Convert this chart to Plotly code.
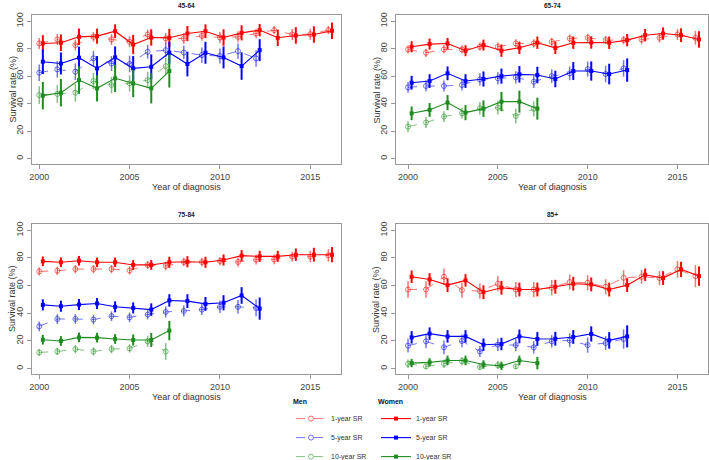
import plotly.graph_objects as go

# years of diagnosis for each survival horizon
years_1y = [2000, 2001, 2002, 2003, 2004, 2005, 2006, 2007, 2008, 2009, 2010, 2011, 2012, 2013, 2014, 2015, 2016]
years_5y = [2000, 2001, 2002, 2003, 2004, 2005, 2006, 2007, 2008, 2009, 2010, 2011, 2012]
years_10y = [2000, 2001, 2002, 2003, 2004, 2005, 2006, 2007]

age_groups = ["45-64", "65-74", "75-84", "85+"]

# ---- 45-64 ----
men_1y_4564 = [83.8, 86.7, 82.6, 88.6, 86.7, 85.0, 90.3, 87.4, 87.4, 89.3, 88.1, 88.6, 91.0, 93.5, 90.3, 90.5, 93.5]
men_1y_4564_err = [4, 4, 4, 3.5, 4, 4, 3.5, 4, 4, 3.5, 4, 4, 3.5, 3, 4, 4, 3]
wom_1y_4564 = [83.8, 84.3, 88.6, 89.1, 92.7, 83.0, 88.1, 87.9, 91.0, 92.7, 88.1, 91.5, 93.5, 87.9, 89.6, 90.3, 93.0]
wom_1y_4564_err = [6, 6, 6, 5.5, 5, 7, 6, 6.5, 5.5, 5, 6, 5.5, 4.5, 6, 6, 6, 6]
men_5y_4564 = [62.5, 64.9, 63.2, 72.9, 69.2, 68.8, 77.7, 78.9, 77.2, 75.3, 74.6, 78.2, 72.9]
men_5y_4564_err = [6, 6, 6, 5.5, 5.5, 6, 5, 5, 5, 5.5, 5.5, 5.5, 6]
wom_5y_4564 = [70.5, 69.2, 73.4, 65.6, 73.6, 65.6, 66.8, 77.0, 68.8, 77.0, 73.6, 67.3, 78.9]
wom_5y_4564_err = [9, 8, 8, 9, 8, 9, 9, 8, 9, 8, 8, 10, 8]
men_10y_4564 = [46.2, 47.0, 47.9, 56.4, 53.5, 54.7, 57.1, 67.3]
men_10y_4564_err = [6.5, 6.5, 6.5, 6, 6, 6, 6, 6]
wom_10y_4564 = [45.8, 47.9, 57.1, 51.1, 58.4, 54.7, 51.1, 63.7]
wom_10y_4564_err = [10, 10, 10, 9.5, 10, 10, 11, 12]

# ---- 65-74 ----
men_1y_6574 = [79.4, 77.0, 79.4, 79.4, 81.4, 81.4, 83.8, 83.8, 85.0, 87.4, 87.9, 86.2, 86.2, 86.7, 87.9, 90.3, 87.9]
men_1y_6574_err = [3, 3, 3, 3, 3, 3, 3, 3, 3, 3, 3, 3, 3, 3.5, 3.5, 4, 5]
wom_1y_6574 = [81.4, 83.3, 83.8, 78.5, 82.6, 78.5, 80.6, 84.3, 80.6, 84.3, 84.5, 84.3, 86.2, 89.8, 91.0, 89.8, 86.7]
wom_1y_6574_err = [4, 4, 4, 4, 4, 4.5, 4.5, 4.5, 4.5, 4.5, 4.5, 4.5, 4.5, 4.5, 4.5, 5, 6]
men_5y_6574 = [51.8, 52.8, 52.8, 53.5, 57.6, 58.4, 59.1, 55.9, 60.0, 62.0, 65.1, 61.5, 65.6]
men_5y_6574_err = [4, 4, 4, 4, 4.5, 4.5, 4.5, 4.5, 5, 5, 5.5, 6, 6]
wom_5y_6574 = [55.2, 56.4, 62.0, 56.4, 57.9, 60.0, 61.3, 60.8, 57.9, 63.7, 63.7, 61.5, 64.4]
wom_5y_6574_err = [5, 5, 5, 5, 5.5, 5.5, 6, 6, 6, 6.5, 7, 7.5, 8.5]
men_10y_6574 = [23.2, 26.2, 30.5, 32.9, 36.6, 37.0, 31.0, 36.1]
men_10y_6574_err = [4, 4, 4, 4, 4.5, 5, 5.5, 5.5]
wom_10y_6574 = [32.9, 35.4, 40.7, 33.4, 36.3, 41.4, 41.4, 36.3]
wom_10y_6574_err = [5, 5, 5.5, 5.5, 6, 7, 8, 8]

# ---- 75-84 ----
men_1y_7584 = [70.2, 70.7, 71.9, 71.9, 71.9, 70.9, 74.8, 74.1, 77.0, 77.0, 77.7, 77.0, 78.7, 78.9, 80.9, 80.9, 81.8]
men_1y_7584_err = [3, 3, 3, 3, 3, 3, 3, 3, 3, 3, 3, 3.5, 3.5, 3.5, 3.5, 4, 4.5]
wom_1y_7584 = [77.5, 76.8, 77.9, 76.8, 76.8, 74.9, 74.9, 76.8, 77.2, 76.8, 78.5, 81.6, 81.1, 81.1, 82.3, 82.3, 82.3]
wom_1y_7584_err = [3.5, 3.5, 3.5, 3.5, 3.5, 3.5, 3.5, 4, 4, 4, 4, 4, 4, 4, 4.5, 5, 5.5]
men_5y_7584 = [30.5, 35.8, 35.8, 35.4, 37.8, 37.0, 39.0, 40.9, 41.6, 42.6, 44.6, 44.6, 43.8]
men_5y_7584_err = [3.5, 3.5, 3.5, 3.5, 3.5, 3.5, 3.5, 4, 4, 4, 4.5, 5, 6]
wom_5y_7584 = [46.0, 45.0, 46.2, 47.0, 44.6, 43.8, 42.6, 49.2, 48.7, 46.7, 47.5, 52.8, 43.3]
wom_5y_7584_err = [4, 4, 4, 4, 4, 4, 4.5, 4.5, 5, 5, 5.5, 6, 8]
men_10y_7584 = [11.6, 12.3, 14.0, 12.3, 14.0, 14.5, 19.6, 12.3]
men_10y_7584_err = [2.5, 2.5, 3, 3, 3, 3, 4, 6]
wom_10y_7584 = [20.8, 19.9, 22.5, 22.3, 21.3, 20.6, 20.6, 27.4]
wom_10y_7584_err = [3.5, 3.5, 3.5, 3.5, 3.5, 4, 5, 7]

# ---- 85+ ----
men_1y_85 = [57.1, 57.1, 66.3, 56.7, 55.9, 61.3, 57.1, 57.1, 58.4, 62.5, 62.0, 59.1, 65.6, 66.3, 65.4, 71.7, 66.8]
men_1y_85_err = [6, 6, 6, 5.5, 5.5, 5.5, 5.5, 5.5, 5.5, 5.5, 5.5, 5.5, 5.5, 5, 5, 6, 8]
wom_1y_85 = [66.3, 64.4, 60.3, 63.7, 55.2, 58.4, 57.1, 57.1, 59.1, 61.3, 60.8, 57.1, 60.3, 67.8, 65.4, 71.7, 66.8]
wom_1y_85_err = [4.5, 4.5, 5, 4.5, 5, 5, 5, 5, 5, 5, 5, 5, 5, 4.5, 5, 5.5, 7]
men_5y_85 = [16.5, 19.6, 15.3, 19.9, 12.3, 17.2, 16.9, 15.3, 19.6, 20.3, 16.9, 18.4, 21.3]
men_5y_85_err = [5, 5, 5, 4.5, 4, 4.5, 4.5, 4.5, 4.5, 5, 5.5, 5, 7]
wom_5y_85 = [22.5, 25.2, 23.2, 23.2, 17.2, 17.7, 23.2, 21.3, 21.5, 22.8, 25.0, 20.3, 23.2]
wom_5y_85_err = [4.5, 4.5, 4.5, 4.5, 4.5, 4.5, 5, 5, 5, 5, 5.5, 6, 8]
men_10y_85 = [3.4, 1.5, 3.4, 5.3, 1.0, 2.4, 1.5]
men_10y_85_err = [3, 2, 3, 3, 2, 3, 2]
wom_10y_85 = [3.9, 4.4, 5.8, 5.8, 2.9, 1.9, 5.8, 3.9]
wom_10y_85_err = [3, 3, 3.5, 3.5, 3, 3, 3.5, 4.5]

panels = [
    [(men_1y_4564, men_1y_4564_err, wom_1y_4564, wom_1y_4564_err),
     (men_5y_4564, men_5y_4564_err, wom_5y_4564, wom_5y_4564_err),
     (men_10y_4564, men_10y_4564_err, wom_10y_4564, wom_10y_4564_err)],
    [(men_1y_6574, men_1y_6574_err, wom_1y_6574, wom_1y_6574_err),
     (men_5y_6574, men_5y_6574_err, wom_5y_6574, wom_5y_6574_err),
     (men_10y_6574, men_10y_6574_err, wom_10y_6574, wom_10y_6574_err)],
    [(men_1y_7584, men_1y_7584_err, wom_1y_7584, wom_1y_7584_err),
     (men_5y_7584, men_5y_7584_err, wom_5y_7584, wom_5y_7584_err),
     (men_10y_7584, men_10y_7584_err, wom_10y_7584, wom_10y_7584_err)],
    [(men_1y_85, men_1y_85_err, wom_1y_85, wom_1y_85_err),
     (men_5y_85, men_5y_85_err, wom_5y_85, wom_5y_85_err),
     (men_10y_85, men_10y_85_err, wom_10y_85, wom_10y_85_err)],
]
horizons = ["1-year SR", "5-year SR", "10-year SR"]
horizon_years = [years_1y, years_5y, years_10y]
colors = ["#FF0000", "#0000FF", "#1E8C1E"]
light = ["rgba(255,0,0,0.55)", "rgba(0,0,255,0.55)", "rgba(30,140,30,0.55)"]

FONT = "Liberation Sans, Arial, sans-serif"
W, H = 709, 460

# panel boxes in pixels: left, right, top, bottom
boxes = [(32, 341, 15, 164), (396, 708, 15, 164), (32, 341, 224, 374), (396, 708, 224, 374)]
xranges = [[1999.6, 2016.7], [1999.33, 2016.7], [1999.6, 2016.7], [1999.33, 2016.7]]

fig = go.Figure()

for p, series in enumerate(panels):
    ax = "" if p == 0 else str(p + 1)
    for h, (m, me, w, we) in enumerate(series):
        yrs = horizon_years[h]
        fig.add_trace(go.Scatter(
            x=yrs[:len(m)], y=m, xaxis="x" + ax, yaxis="y" + ax,
            mode="lines+markers", name=horizons[h], legend="legend",
            showlegend=(p == 0),
            line=dict(color=light[h], width=1, dash="dash"),
            marker=dict(symbol="circle-open", size=5, color=light[h], line=dict(width=1)),
            error_y=dict(type="data", array=me, width=0, thickness=1.5, color=light[h]),
        ))
        fig.add_trace(go.Scatter(
            x=[y + 0.2 for y in yrs[:len(w)]], y=w, xaxis="x" + ax, yaxis="y" + ax,
            mode="lines+markers", name=horizons[h], legend="legend2",
            showlegend=(p == 0),
            line=dict(color=colors[h], width=1.1),
            marker=dict(symbol="square", size=4, color=colors[h]),
            error_y=dict(type="data", array=we, width=0, thickness=2, color=colors[h]),
        ))

axis_common = dict(showgrid=False, zeroline=False, showline=True, mirror=True, automargin=False,
                   linecolor="#999999", linewidth=1, ticks="outside", ticklen=4,
                   tickcolor="#999999", tickfont=dict(size=9, color="#444444", family=FONT))
layout = {}
annotations = []
for p, (l, r, t, b) in enumerate(boxes):
    ax = "" if p == 0 else str(p + 1)
    layout["xaxis" + ax] = dict(axis_common, domain=[l / W, r / W], range=xranges[p],
                                anchor="y" + ax, tickvals=[2000, 2005, 2010, 2015])
    layout["yaxis" + ax] = dict(axis_common, domain=[1 - b / H, 1 - t / H], range=[-4, 104.5],
                                anchor="x" + ax, tickvals=[0, 20, 40, 60, 80, 100], tickangle=-90)
    cx = (l + r) / 2 / W
    annotations.append(dict(text="<b>" + age_groups[p] + "</b>", x=cx, y=1 - (t - 10) / H,
                            xref="paper", yref="paper", showarrow=False,
                            xanchor="center", yanchor="middle",
                            font=dict(size=6.5, color="#222222", family=FONT)))
    annotations.append(dict(text="Year of diagnosis", x=cx, y=1 - (b + 23) / H,
                            xref="paper", yref="paper", showarrow=False,
                            xanchor="center", yanchor="middle",
                            font=dict(size=9, color="#333333", family=FONT)))
    annotations.append(dict(text="Survival rate (%)", x=(l - 20) / W, y=1 - (t + b) / 2 / H,
                            xref="paper", yref="paper", showarrow=False, textangle=-90,
                            xanchor="center", yanchor="middle",
                            font=dict(size=9, color="#333333", family=FONT)))

legend_common = dict(font=dict(size=7, color="#333333", family=FONT), bgcolor="rgba(0,0,0,0)",
                     yanchor="bottom", y=-12 / H, xanchor="left", tracegroupgap=0)
fig.update_layout(
    **layout,
    annotations=annotations,
    width=W, height=H,
    margin=dict(l=0, r=0, t=0, b=0, autoexpand=False),
    paper_bgcolor="white", plot_bgcolor="white",
    legend=dict(legend_common, x=291 / W,
                title=dict(text="<b>Men</b>", font=dict(size=7, family=FONT, color="#111111"))),
    legend2=dict(legend_common, x=376 / W,
                 title=dict(text="<b>Women</b>", font=dict(size=7, family=FONT, color="#111111"))),
)

# the page body has a default 8px margin; remove it so the figure fills the window
fig.write_html("out.html", config={"displayModeBar": False},
               post_script="document.body.style.margin = '0';")
